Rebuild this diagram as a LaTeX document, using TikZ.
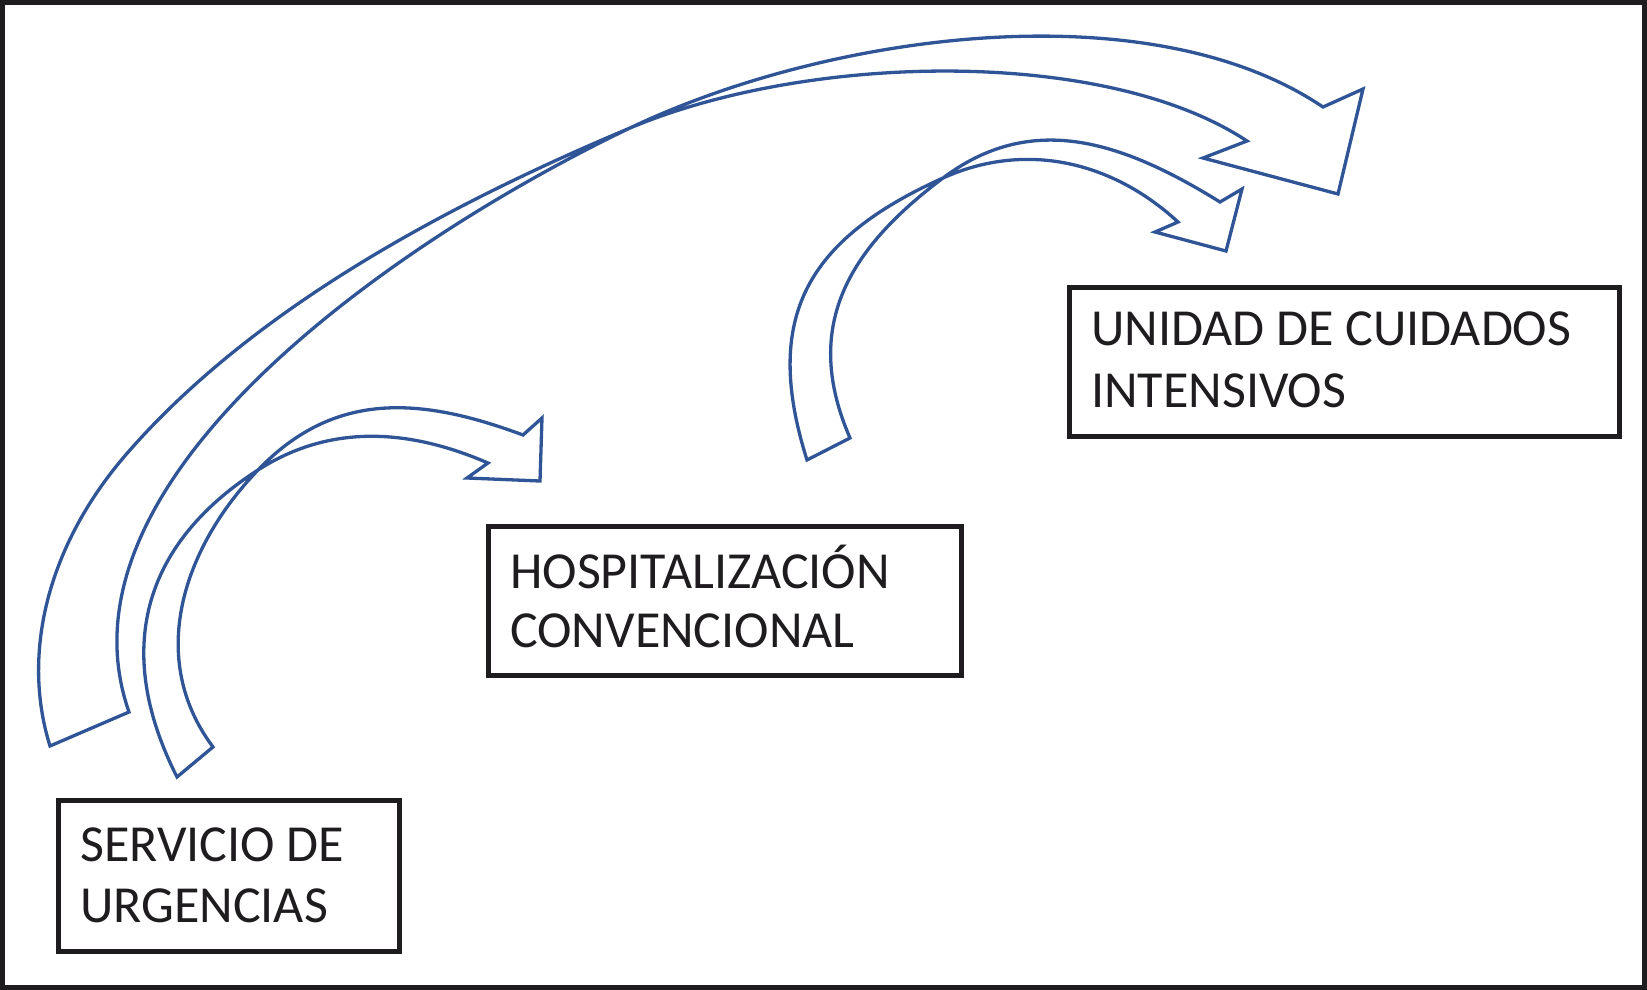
\documentclass[tikz,border=0pt]{standalone}
\usepackage{fontspec}
\setmainfont{Carlito}
\definecolor{arrowblue}{RGB}{47,85,151}
\definecolor{boxblack}{RGB}{30,28,30}
\begin{document}
\begin{tikzpicture}[x=1pt,y=-1pt,
  blockarrow/.style={draw=arrowblue, line width=3.3pt, line join=miter},
  box/.style={draw=boxblack, line width=5pt, rectangle, inner sep=0pt, anchor=north west},
  lbl/.style={anchor=base west, inner sep=0pt, font=\fontsize{52}{62}\selectfont, text=boxblack}]
\useasboundingbox (0,0) rectangle (1647,990);
\draw[draw=boxblack, line width=4.5pt] (2.5,2.5) rectangle (1644.5,987.5);

% boxes
\node[box, minimum width=341pt, minimum height=151pt] (urg) at (56,798) {};
\node[box, minimum width=473pt, minimum height=149pt] (hosp) at (486,524) {};
\node[box, minimum width=550pt, minimum height=149pt] (uci) at (1067,285) {};

\node[lbl] (urg1) at (80,861) {SERVICIO DE};
\node[lbl] (urg2) at (80,922) {URGENCIAS};
\node[lbl] (hosp1) at (510,588) {HOSPITALIZACIÓN};
\node[lbl] (hosp2) at (510,647) {CONVENCIONAL};
\node[lbl] (uci1) at (1091,345) {UNIDAD DE CUIDADOS};
\node[lbl] (uci2) at (1091,407) {INTENSIVOS};

% big arrow: urgencias -> UCI
\draw[blockarrow] (50,746) .. controls (20,650) and (50,540) .. (130,450)
  .. controls (249,315) and (430,212) .. (630,128)
  .. controls (810,52.4) and (1106,47.5) .. (1247,141)
  -- (1203,158) -- (1338,194) -- (1363,89) -- (1323,107)
  .. controls (1148.7,-10.6) and (828,33.4) .. (630,128)
  .. controls (405,235.5) and (46.5,477) .. (129,712)
  -- cycle;

% small arrow: urgencias -> hospitalizacion
\draw[blockarrow] (177,777) .. controls (109.5,643.5) and (149,540) .. (258,470)
  .. controls (333.6,421.4) and (414,431) .. (488,463)
  -- (467,478) -- (540,481) -- (542,418) -- (523,435)
  .. controls (419.6,396.5) and (334,391) .. (258,470)
  .. controls (182,549) and (147,659) .. (213,747)
  -- cycle;

% medium arrow: hospitalizacion -> UCI
\draw[blockarrow] (807,460) .. controls (762,317.5) and (806.5,239.5) .. (943,178)
  .. controls (1025,141) and (1112,161) .. (1178,222)
  -- (1155,232) -- (1226,251) -- (1242,189) -- (1220,202)
  .. controls (1120,140) and (1031,112) .. (943,178)
  .. controls (847,250) and (802,327.6) .. (850,438)
  -- cycle;
\end{tikzpicture}
\end{document}
